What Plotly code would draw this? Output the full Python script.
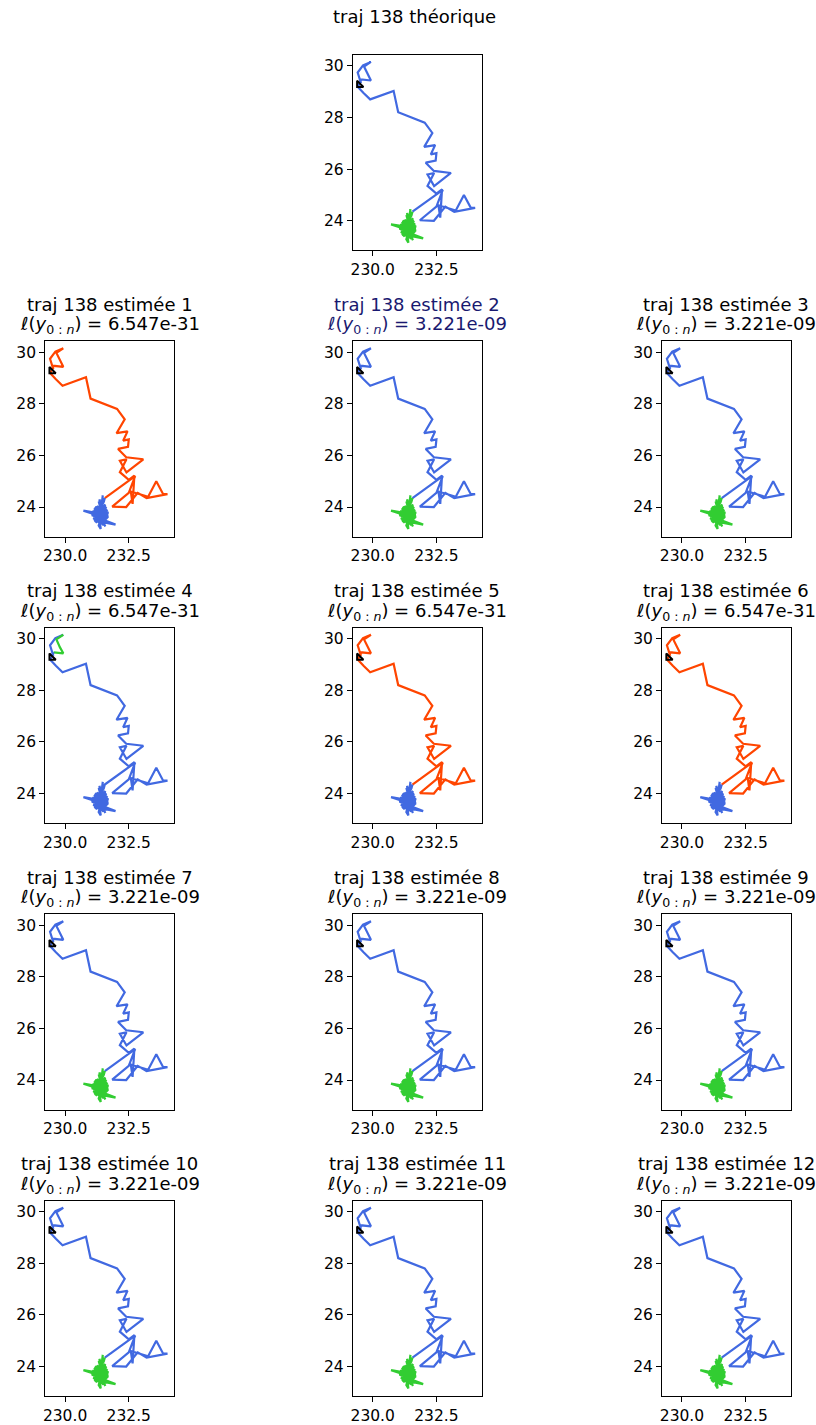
import plotly.graph_objects as go

# ---------------- data ----------------
# main (moving) part of trajectory 138 : longitude / latitude
main_x = [229.54, 229.41, 229.62, 229.93, 229.66, 229.80, 229.93, 229.55, 229.42, 229.64,
          229.90, 230.82, 231.00, 232.04, 232.34, 232.02, 232.45, 232.28, 232.50, 232.47,
          232.08, 232.40, 233.07, 232.41, 232.15, 232.41, 232.15, 232.50, 232.72, 232.65,
          232.58, 233.26, 233.58, 233.85, 234.02, 233.20, 232.85, 232.40, 231.85, 232.50,
          232.75, 231.56]
main_y = [29.33, 29.74, 30.02, 30.15, 29.97, 29.66, 29.43, 29.47, 29.18, 28.95,
          28.70, 29.03, 28.20, 27.80, 27.40, 26.86, 26.93, 26.57, 26.62, 26.33,
          26.25, 25.93, 25.85, 25.34, 25.79, 25.85, 25.35, 25.05, 25.22, 24.12,
          24.60, 24.40, 25.00, 24.50, 24.50, 24.35, 24.55, 24.00, 24.02, 24.55,
          25.20, 24.35]
# stationary part (cluster)
cl_x = [231.52, 231.35, 231.60, 231.20, 231.45, 231.12, 231.58, 231.28, 231.50, 231.22,
        231.65, 231.15, 231.40, 231.55, 231.45, 231.48, 231.42, 231.30, 231.62, 231.10,
        230.72, 231.08, 231.45, 231.25, 231.55, 231.35, 231.68, 231.20, 231.42, 231.15,
        231.58, 231.30, 231.50, 231.38, 231.05, 231.60, 231.28, 231.45, 231.98, 231.52,
        231.22, 231.48, 231.32, 231.40, 231.36, 231.62, 231.12, 231.40, 231.55, 231.25,
        231.70, 231.18, 231.45, 231.30, 231.58, 231.08, 231.52, 231.26, 231.42, 231.65,
        231.15, 231.38, 231.55, 231.22, 231.48, 231.32, 231.60, 231.12, 231.44, 231.28,
        231.66, 231.20, 231.50, 231.35, 231.58, 231.45, 231.18, 231.62, 231.30, 231.52,
        231.25, 231.40, 231.70, 231.15, 231.48, 231.35, 231.38, 231.55, 231.22, 231.60,
        231.32, 231.45, 231.10, 231.52, 231.28, 231.42, 231.64, 231.30, 231.48, 231.38]
cl_y = [24.20, 23.90, 23.75, 23.85, 23.55, 23.70, 23.92, 23.48, 24.05, 23.62,
        23.60, 23.95, 23.40, 23.82, 24.12, 24.45, 24.00, 23.72, 23.50, 23.80,
        23.86, 23.74, 23.65, 24.05, 23.45, 23.85, 23.70, 23.40, 23.78, 23.62,
        24.10, 23.55, 23.30, 23.92, 23.68, 23.62, 23.85, 23.42, 23.32, 23.50,
        23.75, 23.88, 23.28, 23.15, 23.45, 23.85, 23.52, 24.15, 23.68, 23.60,
        23.78, 24.00, 23.58, 23.95, 23.38, 23.85, 23.72, 23.50, 24.08, 23.55,
        23.70, 23.35, 23.98, 23.88, 23.62, 24.22, 23.45, 23.60, 23.80, 23.42,
        23.90, 23.52, 23.85, 23.65, 23.25, 23.52, 23.78, 24.00, 23.58, 23.40,
        23.95, 23.70, 23.62, 23.45, 23.78, 24.30, 23.88, 23.58, 23.68, 23.80,
        23.38, 23.95, 23.66, 23.62, 23.78, 23.50, 23.72, 23.62, 23.70, 23.66]

start_x = [229.47]
start_y = [29.26]

panel_titles = ["traj 138 théorique"] + [f"traj 138 estimée {k}" for k in range(1, 13)]
likelihoods = [None, "6.547e-31", "3.221e-09", "3.221e-09", "6.547e-31", "6.547e-31",
               "6.547e-31", "3.221e-09", "3.221e-09", "3.221e-09", "3.221e-09",
               "3.221e-09", "3.221e-09"]

N_MAIN = len(main_x)
N_CL = len(cl_x)
# estimated regimes as run lengths (regime label, number of points)
regime_runs = [
    [(0, N_MAIN), (1, N_CL)],                    # théorique
    [(2, N_MAIN), (0, N_CL)],                    # 1
    [(0, N_MAIN), (1, N_CL)],                    # 2
    [(0, N_MAIN), (1, N_CL)],                    # 3
    [(0, 4), (1, 4), (0, N_MAIN - 8 + N_CL)],    # 4
    [(2, N_MAIN), (0, N_CL)],                    # 5
    [(2, N_MAIN), (0, N_CL)],                    # 6
    [(0, N_MAIN), (1, N_CL)],                    # 7
    [(0, N_MAIN), (1, N_CL)],                    # 8
    [(0, N_MAIN), (1, N_CL)],                    # 9
    [(0, N_MAIN), (1, N_CL)],                    # 10
    [(0, N_MAIN), (1, N_CL)],                    # 11
    [(0, N_MAIN), (1, N_CL)],                    # 12
]

x_ticks = [230.0, 232.5]
x_ticklabels = ["230.0", "232.5"]
y_ticks = [24, 26, 28, 30]
y_ticklabels = ["24", "26", "28", "30"]

# ---------------- style ----------------
W, H = 816, 1425
REGIME_COLORS = {0: "#4169E1", 1: "#32CD32", 2: "#FF4500"}
FONT = "DejaVu Sans"
COL_LEFT = [43.3, 351.7, 661.7]
AX_W = 129.0
ROW_TOP = [54.7, 341.0, 627.5, 914.0, 1200.5]
AX_H = 195.5
XR = [229.22, 234.27]
YR = [22.86, 30.43]

traj_x = main_x + cl_x
traj_y = main_y + cl_y

fig = go.Figure()
annotations = []
layout = {}

for p in range(13):
    if p == 0:
        row, col = 0, 1
    else:
        row, col = 1 + (p - 1) // 3, (p - 1) % 3
    left = COL_LEFT[col]
    top = ROW_TOP[row]
    xd = [left / W, (left + AX_W) / W]
    yd = [1 - (top + AX_H) / H, 1 - top / H]
    sfx = "" if p == 0 else str(p + 1)
    xa, ya = "x" + sfx, "y" + sfx

    pos = 0
    for regime, n in regime_runs[p]:
        a, b = pos, pos + n
        i0 = max(a - 1, 0)
        fig.add_trace(go.Scatter(
            x=traj_x[i0:b], y=traj_y[i0:b], mode="lines",
            line=dict(color=REGIME_COLORS[regime], width=2.2),
            xaxis=xa, yaxis=ya, showlegend=False, hoverinfo="skip"))
        pos = b
    fig.add_trace(go.Scatter(
        x=start_x, y=start_y, mode="markers",
        marker=dict(symbol="triangle-sw-open", size=7, color="black",
                    line=dict(color="black", width=2)),
        xaxis=xa, yaxis=ya, showlegend=False, hoverinfo="skip"))

    common = dict(showline=True, linecolor="black", linewidth=1, mirror=True,
                  showgrid=False, zeroline=False, ticks="outside", ticklen=5,
                  tickwidth=1, tickcolor="black",
                  tickfont=dict(family=FONT, size=15.5, color="black"))
    layout["xaxis" + sfx] = dict(domain=xd, range=XR, anchor=ya, tickvals=x_ticks,
                                 ticktext=x_ticklabels, **common)
    layout["yaxis" + sfx] = dict(domain=yd, range=YR, anchor=xa, tickvals=y_ticks,
                                 ticktext=y_ticklabels, **common)

    cx = (left + AX_W / 2) / W
    tcolor = "#191970" if p == 2 else "black"
    if p == 0:
        annotations.append(dict(text=panel_titles[p], x=414 / W, y=1 - 17 / H,
                                xref="paper", yref="paper", showarrow=False,
                                xanchor="center", yanchor="middle",
                                font=dict(family=FONT, size=18, color=tcolor)))
    else:
        annotations.append(dict(text=panel_titles[p], x=cx, y=1 - (top - 37) / H,
                                xref="paper", yref="paper", showarrow=False,
                                xanchor="center", yanchor="middle",
                                font=dict(family=FONT, size=18, color=tcolor)))
        annotations.append(dict(
            text="ℓ(<i>y</i><sub>0 : <i>n</i></sub>) = " + likelihoods[p],
            x=cx, y=1 - (top - 16) / H, xref="paper", yref="paper", showarrow=False,
            xanchor="center", yanchor="middle",
            font=dict(family=FONT, size=18, color=tcolor)))

fig.update_layout(width=W, height=H, margin=dict(l=0, r=0, t=0, b=0),
                  paper_bgcolor="white", plot_bgcolor="white",
                  annotations=annotations, showlegend=False, **layout)
fig.write_html("out.html", config={"displayModeBar": False},
               post_script="document.body.style.margin='0';"
                           "document.body.style.overflow='hidden';")
